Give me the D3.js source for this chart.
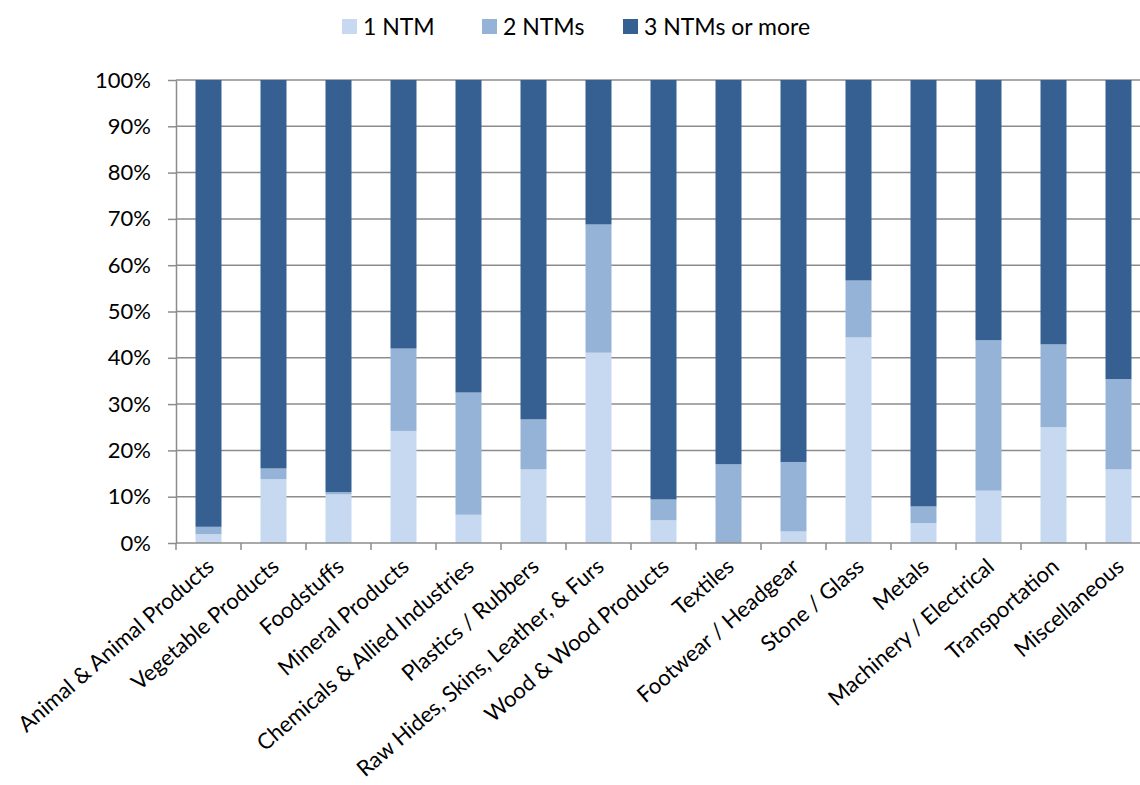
<!DOCTYPE html>
<html>
<head>
<meta charset="utf-8">
<script src="https://cdn.jsdelivr.net/npm/d3@7/dist/d3.min.js"></script>
<style>
  html, body { margin: 0; padding: 0; background: #fff; }
  svg { display: block; font-family: Lato, "Open Sans", sans-serif; }
</style>
</head>
<body>
<svg id="chart" width="1140" height="785"></svg>
<script>
// Product sectors (HS sections)
const categories = [
  "Animal & Animal Products", "Vegetable Products", "Foodstuffs", "Mineral Products",
  "Chemicals & Allied Industries", "Plastics / Rubbers", "Raw Hides, Skins, Leather, & Furs",
  "Wood & Wood Products", "Textiles", "Footwear / Headgear", "Stone / Glass", "Metals",
  "Machinery / Electrical", "Transportation", "Miscellaneous"
];
// Share of products (%) by number of non-tariff measures applied
const oneNTM   = [1.9, 13.8, 10.5, 24.2, 6.1, 15.9, 41.1, 4.9, 0.0, 2.5, 44.4, 4.3, 11.3, 25.0, 15.9];
const twoNTMs  = [1.6, 2.3, 0.5, 17.8, 26.4, 10.8, 27.7, 4.5, 17.0, 15.0, 12.3, 3.6, 32.5, 17.9, 19.5];
const threePlus = oneNTM.map((v, i) => +(100 - v - twoNTMs[i]).toFixed(1));
const seriesNames = ["1 NTM", "2 NTMs", "3 NTMs or more"];
const seriesColors = ["#C6D9F1", "#95B3D7", "#376092"];
const yTicks = [0, 10, 20, 30, 40, 50, 60, 70, 80, 90, 100];

const rows = categories.map((c, i) => ({ cat: c, s0: oneNTM[i], s1: twoNTMs[i], s2: threePlus[i] }));
const stacked = d3.stack().keys(["s0", "s1", "s2"])(rows);

const svg = d3.select("#chart");
const plotLeft = 176, plotTop = 80, plotW = 975, plotH = 463;

const x = d3.scaleBand().domain(categories).range([plotLeft, plotLeft + plotW]).paddingInner(0.6).paddingOuter(0.3);
const xTick = d3.scaleBand().domain(categories).range([plotLeft, plotLeft + plotW]);
const y = d3.scaleLinear().domain([0, 100]).range([plotTop + plotH, plotTop]);

// gridlines
svg.append("g").selectAll("line").data(yTicks.filter(t => t > 0)).join("line")
  .attr("x1", plotLeft).attr("x2", plotLeft + plotW)
  .attr("y1", d => y(d)).attr("y2", d => y(d))
  .attr("stroke", "#8c8c8c").attr("stroke-width", 1.5);

// stacked bars
svg.append("g").selectAll("g").data(stacked).join("g")
  .attr("fill", (d, i) => seriesColors[i])
  .selectAll("rect").data(d => d).join("rect")
  .attr("x", d => x(d.data.cat))
  .attr("width", x.bandwidth())
  .attr("y", d => y(d[1]))
  .attr("height", d => y(d[0]) - y(d[1]));

// y axis
const yAxis = svg.append("g").attr("transform", `translate(${plotLeft},0)`)
  .call(d3.axisLeft(y).tickValues(yTicks).tickFormat(d => d + "%").tickSize(8).tickSizeOuter(0));
yAxis.select(".domain").attr("stroke", "#8c8c8c").attr("stroke-width", 1.5);
yAxis.selectAll(".tick line").attr("stroke", "#8c8c8c").attr("stroke-width", 1.5);
yAxis.selectAll(".tick text").attr("x", -25).attr("font-size", 22).attr("fill", "#000")
  .attr("font-family", "Lato, sans-serif");

// x axis
const xAxis = svg.append("g").attr("transform", `translate(0,${plotTop + plotH})`);
xAxis.append("line").attr("x1", plotLeft).attr("x2", plotLeft + plotW)
  .attr("stroke", "#8c8c8c").attr("stroke-width", 1.5);
xAxis.selectAll("line.tk").data(categories.concat(["__end"])).join("line").attr("class", "tk")
  .attr("x1", (d, i) => plotLeft + i * xTick.step()).attr("x2", (d, i) => plotLeft + i * xTick.step())
  .attr("y1", 0).attr("y2", 7).attr("stroke", "#8c8c8c").attr("stroke-width", 1.5);
xAxis.selectAll("text").data(categories).join("text")
  .attr("transform", d => `translate(${x(d) + x.bandwidth() / 2 + 2},${20}) rotate(-41)`)
  .attr("text-anchor", "end").attr("dy", "0.35em")
  .attr("font-size", 22).attr("fill", "#000")
  .text(d => d);

// legend
const legendX = [342, 482, 623];
const lg = svg.append("g").selectAll("g").data(seriesNames).join("g")
  .attr("transform", (d, i) => `translate(${legendX[i]},0)`);
lg.append("rect").attr("x", 0).attr("y", 19).attr("width", 15).attr("height", 15)
  .attr("fill", (d, i) => seriesColors[i]);
lg.append("text").attr("x", 21).attr("y", 27).attr("dy", "0.35em")
  .attr("font-size", 23).attr("fill", "#000").text(d => d);
</script>
</body>
</html>
